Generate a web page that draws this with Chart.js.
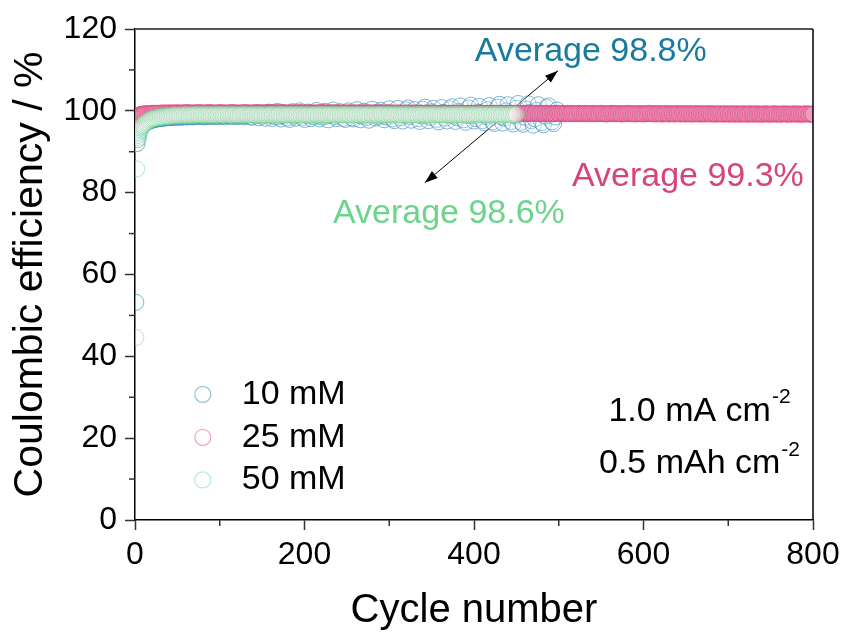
<!DOCTYPE html>
<html>
<head>
<meta charset="utf-8">
<script src="https://cdn.jsdelivr.net/npm/chart.js@4.4.1/dist/chart.umd.min.js"></script>
<style>
body { margin: 0; background: #fff; }
#wrap { width: 846px; height: 635px; }
</style>
</head>
<body>
<div id="wrap"><canvas id="ce-chart"></canvas></div>
<script>
// cycle numbers shared by all three cells (each series stops where its values end)
const cycles = [1, 2, 3, 4, 5, 6, 7, 8, 9, 10,
    12, 14, 16, 18, 20, 22, 24, 26, 28, 30, 32, 34, 36, 38, 40, 42, 44, 46, 48, 50,
    52, 54, 56, 58, 60, 62, 64, 66, 68, 70, 72, 74, 76, 78, 80, 82, 84, 86, 88, 90,
    92, 94, 96, 98, 100, 102, 104, 106, 108, 110, 112, 114, 116, 118, 120, 122, 124, 126, 128, 130,
    132, 134, 136, 138, 140, 142, 144, 146, 148, 150, 152, 154, 156, 158, 160, 162, 164, 166, 168, 170,
    172, 174, 176, 178, 180, 182, 184, 186, 188, 190, 192, 194, 196, 198, 200, 202, 204, 206, 208, 210,
    212, 214, 216, 218, 220, 222, 224, 226, 228, 230, 232, 234, 236, 238, 240, 242, 244, 246, 248, 250,
    252, 254, 256, 258, 260, 262, 264, 266, 268, 270, 272, 274, 276, 278, 280, 282, 284, 286, 288, 290,
    292, 294, 296, 298, 300, 302, 304, 306, 308, 310, 312, 314, 316, 318, 320, 322, 324, 326, 328, 330,
    332, 334, 336, 338, 340, 342, 344, 346, 348, 350, 352, 354, 356, 358, 360, 362, 364, 366, 368, 370,
    372, 374, 376, 378, 380, 382, 384, 386, 388, 390, 392, 394, 396, 398, 400, 402, 404, 406, 408, 410,
    412, 414, 416, 418, 420, 422, 424, 426, 428, 430, 432, 434, 436, 438, 440, 442, 444, 446, 448, 450,
    452, 454, 456, 458, 460, 462, 464, 466, 468, 470, 472, 474, 476, 478, 480, 482, 484, 486, 488, 490,
    492, 494, 496, 498, 500, 502, 504, 506, 508, 510, 512, 514, 516, 518, 520, 522, 524, 526, 528, 530,
    532, 534, 536, 538, 540, 542, 544, 546, 548, 550, 552, 554, 556, 558, 560, 562, 564, 566, 568, 570,
    572, 574, 576, 578, 580, 582, 584, 586, 588, 590, 592, 594, 596, 598, 600, 602, 604, 606, 608, 610,
    612, 614, 616, 618, 620, 622, 624, 626, 628, 630, 632, 634, 636, 638, 640, 642, 644, 646, 648, 650,
    652, 654, 656, 658, 660, 662, 664, 666, 668, 670, 672, 674, 676, 678, 680, 682, 684, 686, 688, 690,
    692, 694, 696, 698, 700, 702, 704, 706, 708, 710, 712, 714, 716, 718, 720, 722, 724, 726, 728, 730,
    732, 734, 736, 738, 740, 742, 744, 746, 748, 750, 752, 754, 756, 758, 760, 762, 764, 766, 768, 770,
    772, 774, 776, 778, 780, 782, 784, 786, 788, 790, 792, 794, 796, 798, 800];

const ce10 = [53.2, 92.0, 93.0, 94.0, 94.8, 95.3, 95.8, 96.1, 96.4, 96.6,
    96.9, 97.2, 97.4, 97.6, 97.7, 97.8, 97.9, 98.0, 98.1, 98.1, 98.2, 98.2, 98.3, 98.3, 98.4, 98.3, 98.4, 98.5, 98.4, 98.5,
    98.5, 98.4, 98.6, 98.5, 98.6, 98.5, 98.7, 98.6, 98.5, 98.6, 98.7, 98.6, 98.8, 98.6, 98.7, 98.5, 98.7, 98.8, 98.6, 98.7,
    98.8, 98.6, 98.7, 98.9, 98.6, 98.8, 98.7, 98.5, 98.8, 98.9, 98.7, 98.6, 98.9, 98.8, 98.6, 98.7, 99.0, 98.8, 98.5, 98.7,
    98.9, 99.2, 98.6, 98.4, 99.1, 99.4, 98.8, 98.3, 99.0, 99.5, 98.7, 98.2, 99.3, 99.7, 98.9, 98.1, 98.6, 99.6, 99.9, 98.5,
    98.0, 98.8, 99.5, 99.1, 98.3, 97.9, 99.2, 99.8, 98.7, 98.2, 99.0, 100.0, 99.3, 98.4, 97.9, 98.9, 99.7, 99.2, 98.1, 98.6,
    99.4, 100.1, 98.8, 98.0, 98.5, 99.6, 99.9, 98.7, 97.8, 98.9, 99.5, 100.2, 98.6, 98.1, 99.0, 99.8, 99.3, 98.2, 97.9, 99.1,
    100.0, 99.4, 98.3, 98.0, 99.2, 100.3, 98.9, 97.8, 98.7, 99.9, 99.5, 98.4, 97.7, 99.0, 100.4, 99.1, 98.2, 98.6, 99.7, 100.1,
    98.8, 97.8, 98.5, 99.6, 100.5, 99.0, 98.0, 97.6, 99.3, 100.6, 99.2, 98.3, 97.5, 98.9, 100.2, 100.7, 98.6, 97.7, 99.1, 100.3,
    99.4, 98.1, 97.4, 98.8, 100.4, 100.9, 98.9, 97.6, 98.4, 99.8, 100.6, 99.0, 97.9, 97.3, 99.2, 100.8, 99.6, 98.2, 97.5, 99.0,
    100.5, 101.0, 98.7, 97.4, 98.3, 99.9, 101.2, 99.3, 97.8, 97.2, 98.9, 100.7, 101.4, 98.8, 97.5, 98.1, 99.7, 101.1, 99.5, 97.6,
    97.1, 98.6, 100.3, 101.3, 99.0, 97.3, 96.9, 99.1, 100.9, 101.6, 98.5, 97.0, 98.2, 100.0, 101.5, 99.4, 97.4, 96.8, 98.8, 100.6,
    101.8, 99.2, 97.2, 96.7, 98.4, 100.4, 101.7, 99.6, 97.6, 96.5, 98.0, 100.1, 101.5, 99.3, 97.1, 96.6, 98.7, 100.8, 101.2, 98.9,
    97.3, 96.9, 98.5, 100.2, 99.4];

const ce25 = [96.8, 97.9, 98.4, 98.7, 98.9, 99.0, 99.1, 99.1, 99.2, 99.2,
    99.3, 99.3, 99.3, 99.3, 99.4, 99.4, 99.4, 99.4, 99.4, 99.4, 99.5, 99.4, 99.5, 99.4, 99.5, 99.5, 99.4, 99.5, 99.5, 99.5,
    99.5, 99.4, 99.5, 99.5, 99.5, 99.6, 99.5, 99.4, 99.5, 99.5, 99.5, 99.5, 99.6, 99.5, 99.4, 99.5, 99.5, 99.5, 99.6, 99.5,
    99.5, 99.5, 99.4, 99.5, 99.6, 99.5, 99.5, 99.5, 99.4, 99.5, 99.5, 99.6, 99.5, 99.5, 99.5, 99.4, 99.5, 99.5, 99.5, 99.6,
    99.5, 99.5, 99.4, 99.5, 99.5, 99.5, 99.6, 99.5, 99.5, 99.4, 99.5, 99.5, 99.5, 99.5, 99.6, 99.5, 99.4, 99.5, 99.5, 99.5,
    99.5, 99.6, 99.5, 99.5, 99.4, 99.5, 99.5, 99.5, 99.5, 99.4, 99.5, 99.6, 99.5, 99.5, 99.5, 99.4, 99.5, 99.5, 99.5, 99.5,
    99.4, 99.5, 99.5, 99.5, 99.6, 99.5, 99.4, 99.5, 99.5, 99.5, 99.4, 99.5, 99.5, 99.5, 99.5, 99.4, 99.5, 99.5, 99.4, 99.5,
    99.5, 99.5, 99.4, 99.5, 99.5, 99.4, 99.5, 99.5, 99.5, 99.4, 99.5, 99.4, 99.5, 99.5, 99.4, 99.5, 99.5, 99.4, 99.5, 99.5,
    99.4, 99.5, 99.4, 99.5, 99.4, 99.5, 99.5, 99.4, 99.4, 99.5, 99.4, 99.5, 99.4, 99.4, 99.5, 99.4, 99.5, 99.4, 99.4, 99.5,
    99.4, 99.4, 99.5, 99.4, 99.4, 99.4, 99.5, 99.4, 99.4, 99.4, 99.5, 99.4, 99.4, 99.3, 99.4, 99.4, 99.5, 99.4, 99.4, 99.4,
    99.4, 99.4, 99.3, 99.4, 99.4, 99.5, 99.4, 99.4, 99.4, 99.3, 99.4, 99.4, 99.4, 99.4, 99.3, 99.4, 99.4, 99.5, 99.4, 99.4,
    99.4, 99.3, 99.4, 99.4, 99.4, 99.3, 99.4, 99.4, 99.3, 99.4, 99.4, 99.4, 99.3, 99.4, 99.4, 99.3, 99.4, 99.4, 99.4, 99.3,
    99.4, 99.4, 99.3, 99.4, 99.3, 99.4, 99.4, 99.3, 99.4, 99.3, 99.4, 99.4, 99.3, 99.3, 99.4, 99.3, 99.4, 99.3, 99.4, 99.3,
    99.3, 99.4, 99.3, 99.4, 99.3, 99.3, 99.4, 99.3, 99.3, 99.4, 99.3, 99.3, 99.4, 99.3, 99.3, 99.3, 99.4, 99.3, 99.3, 99.3,
    99.4, 99.3, 99.3, 99.3, 99.4, 99.3, 99.3, 99.3, 99.3, 99.4, 99.3, 99.3, 99.2, 99.3, 99.3, 99.4, 99.3, 99.3, 99.3, 99.3,
    99.3, 99.2, 99.3, 99.3, 99.3, 99.4, 99.3, 99.3, 99.3, 99.2, 99.3, 99.3, 99.3, 99.3, 99.2, 99.3, 99.3, 99.4, 99.3, 99.3,
    99.3, 99.2, 99.3, 99.3, 99.3, 99.2, 99.3, 99.3, 99.3, 99.2, 99.3, 99.3, 99.2, 99.3, 99.3, 99.3, 99.2, 99.3, 99.3, 99.2,
    99.3, 99.3, 99.2, 99.3, 99.2, 99.3, 99.3, 99.2, 99.3, 99.2, 99.3, 99.2, 99.3, 99.3, 99.2, 99.3, 99.2, 99.2, 99.3, 99.2,
    99.3, 99.2, 99.2, 99.3, 99.2, 99.2, 99.3, 99.2, 99.2, 99.3, 99.2, 99.2, 99.2, 99.3, 99.2, 99.2, 99.2, 99.3, 99.2, 99.2,
    99.2, 99.3, 99.2, 99.2, 99.2, 99.2, 99.3, 99.2, 99.2, 99.2, 99.2, 99.3, 99.2, 99.2, 99.2, 99.2, 99.2, 99.3, 99.2, 99.2,
    99.2, 99.2, 99.2, 99.3, 99.2, 99.2, 99.2, 99.2, 99.2, 99.2, 99.3, 99.2, 99.2, 99.2, 99.2];

const ce50 = [44.6, 85.8, 92.0, 93.5, 94.5, 95.2, 95.7, 96.1, 96.4, 96.7,
    97.0, 97.3, 97.6, 97.8, 98.0, 98.1, 98.2, 98.3, 98.4, 98.5, 98.5, 98.6, 98.6, 98.7, 98.7, 98.8, 98.8, 98.8, 98.9, 98.9,
    98.9, 98.9, 99.0, 98.9, 99.0, 99.0, 98.9, 99.0, 99.0, 99.0, 99.1, 99.0, 99.0, 99.0, 99.1, 99.0, 99.0, 99.1, 99.0, 99.0,
    99.0, 99.1, 99.0, 99.0, 99.1, 99.0, 99.0, 99.0, 99.1, 99.0, 99.1, 99.0, 99.0, 99.1, 99.0, 99.0, 99.0, 99.1, 99.0, 99.1,
    99.0, 99.0, 99.1, 99.0, 99.1, 99.0, 99.0, 99.1, 99.0, 99.0, 99.1, 99.0, 99.0, 99.0, 99.1, 99.0, 99.1, 99.0, 99.0, 99.1,
    99.0, 99.1, 99.0, 99.0, 99.0, 99.1, 99.0, 99.1, 99.0, 99.0, 99.1, 99.0, 99.0, 99.1, 99.0, 99.0, 99.1, 99.0, 99.0, 99.0,
    99.1, 99.0, 99.0, 99.1, 99.0, 99.1, 99.0, 99.0, 99.0, 99.1, 99.0, 99.1, 99.0, 99.0, 99.1, 99.0, 99.0, 99.1, 99.0, 99.1,
    99.0, 99.0, 99.1, 99.0, 99.0, 99.1, 99.0, 99.1, 99.0, 99.0, 99.0, 99.1, 99.0, 99.1, 99.0, 99.0, 99.1, 99.0, 99.0, 99.1,
    99.0, 99.1, 99.0, 99.0, 99.1, 99.0, 99.0, 99.0, 99.1, 99.0, 99.1, 99.0, 99.0, 99.1, 99.0, 99.1, 99.0, 99.0, 99.0, 99.1,
    99.0, 99.0, 99.1, 99.0, 99.1, 99.0, 99.0, 99.1, 99.0, 99.0, 99.1, 99.0, 99.1, 99.0, 99.0, 99.0, 99.1, 99.0, 99.1, 99.0,
    99.0, 99.1, 99.0, 99.0, 99.1, 99.0, 99.1, 99.0, 99.0, 99.1, 99.0, 99.0, 99.0, 99.1, 99.0, 99.1, 99.0, 99.0, 99.1, 99.0,
    99.1, 99.0, 99.0, 99.1, 99.0, 99.0, 99.1, 99.0, 99.1, 99.0, 99.0, 99.1, 99.0, 99.0, 99.1, 99.0, 99.1, 99.0, 99.1, 99.1];

const seriesNames = ['10 mM', '25 mM', '50 mM'];
const xTicks = [0, 200, 400, 600, 800];
const xMinor = [100, 300, 500, 700];
const yTicks = [0, 20, 40, 60, 80, 100, 120];
const yMinor = [10, 30, 50, 70, 90, 110];

const FONT = "'Liberation Sans', Arial, sans-serif";
const lineColors = ['rgba(40, 130, 180, 0.6)', 'rgba(222, 78, 136, 0.75)', 'rgba(115, 215, 150, 0.55)'];
const fillColors = ['rgba(255, 255, 255, 0.2)', 'rgba(238, 150, 185, 0.18)', 'rgba(255, 255, 255, 0.2)'];
const legendColors = ['rgba(45, 135, 185, 0.5)', 'rgba(222, 80, 138, 0.5)', 'rgba(115, 215, 150, 0.5)'];
const textColors = ['rgb(24, 122, 158)', 'rgb(214, 68, 124)', 'rgb(108, 212, 140)'];

function toPoints(values) {
    return values.map((v, i) => ({x: cycles[i], y: v}));
}

function arrowHead(ctx, fx, fy, tx, ty) {
    const ang = Math.atan2(ty - fy, tx - fx);
    const len = 13, half = 4.5;
    ctx.beginPath();
    ctx.moveTo(tx, ty);
    ctx.lineTo(tx - len * Math.cos(ang) + half * Math.sin(ang), ty - len * Math.sin(ang) - half * Math.cos(ang));
    ctx.lineTo(tx - len * Math.cos(ang) - half * Math.sin(ang), ty - len * Math.sin(ang) + half * Math.cos(ang));
    ctx.closePath();
    ctx.fill();
}

// text with a "-2" superscript, centred on cx
function supText(ctx, main, sup, cx, cy) {
    ctx.font = `34px ${FONT}`;
    const w1 = ctx.measureText(main).width;
    ctx.font = `21px ${FONT}`;
    const w2 = ctx.measureText(sup).width;
    const left = cx - (w1 + w2) / 2;
    ctx.textAlign = 'left';
    ctx.textBaseline = 'middle';
    ctx.font = `34px ${FONT}`;
    ctx.fillText(main, left, cy);
    ctx.font = `21px ${FONT}`;
    ctx.fillText(sup, left + w1 + 1, cy - 14);
}

const decorations = {
    id: 'decorations',
    beforeDatasetsDraw(chart) {
        const {ctx, scales: {x, y}} = chart;
        // double arrow between the two averages (sits under the markers)
        const x1 = x.getPixelForValue(342), y1 = y.getPixelForValue(82.4);
        const x2 = x.getPixelForValue(499), y2 = y.getPixelForValue(109.8);
        ctx.save();
        ctx.strokeStyle = '#000';
        ctx.fillStyle = '#000';
        ctx.lineWidth = 1;
        ctx.beginPath();
        ctx.moveTo(x1, y1);
        ctx.lineTo(x2, y2);
        ctx.stroke();
        arrowHead(ctx, x2, y2, x1, y1);
        arrowHead(ctx, x1, y1, x2, y2);
        ctx.restore();
    },
    afterDraw(chart) {
        const {ctx, chartArea: a, scales: {x, y}} = chart;
        ctx.save();
        // top and right frame
        ctx.strokeStyle = '#555';
        ctx.lineWidth = 2;
        ctx.beginPath();
        ctx.moveTo(a.left, a.top);
        ctx.lineTo(a.right, a.top);
        ctx.stroke();
        ctx.strokeStyle = '#000';
        ctx.lineWidth = 1.5;
        ctx.beginPath();
        ctx.moveTo(a.right, a.top);
        ctx.lineTo(a.right, a.bottom);
        ctx.stroke();

        // minor ticks
        ctx.strokeStyle = '#333';
        ctx.lineWidth = 1.5;
        for (const v of xMinor) {
            const px = x.getPixelForValue(v);
            ctx.beginPath();
            ctx.moveTo(px, a.bottom);
            ctx.lineTo(px, a.bottom + 6);
            ctx.stroke();
        }
        for (const v of yMinor) {
            const py = y.getPixelForValue(v);
            ctx.beginPath();
            ctx.moveTo(a.left - 6, py);
            ctx.lineTo(a.left, py);
            ctx.stroke();
        }

        // legend inside the plot
        const legendY = [30.7, 20.2, 9.8];
        seriesNames.forEach((name, i) => {
            const py = y.getPixelForValue(legendY[i]);
            ctx.strokeStyle = legendColors[i];
            ctx.lineWidth = 1.2;
            ctx.beginPath();
            ctx.arc(x.getPixelForValue(80), py, 8, 0, Math.PI * 2);
            ctx.stroke();
            ctx.fillStyle = '#000';
            ctx.font = `34px ${FONT}`;
            ctx.textAlign = 'left';
            ctx.textBaseline = 'middle';
            ctx.fillText(name, x.getPixelForValue(126), py);
        });

        // averages
        ctx.font = `34px ${FONT}`;
        ctx.textAlign = 'left';
        ctx.textBaseline = 'middle';
        ctx.fillStyle = textColors[0];
        ctx.fillText('Average 98.8%', x.getPixelForValue(401), y.getPixelForValue(114.4));
        ctx.fillStyle = textColors[1];
        ctx.fillText('Average 99.3%', x.getPixelForValue(515.6), y.getPixelForValue(83.9));
        ctx.fillStyle = textColors[2];
        ctx.fillText('Average 98.6%', x.getPixelForValue(233.6), y.getPixelForValue(74.9));

        // test conditions
        ctx.fillStyle = '#000';
        supText(ctx, '1.0 mA cm', '-2', x.getPixelForValue(665.5), y.getPixelForValue(26.6));
        supText(ctx, '0.5 mAh cm', '-2', x.getPixelForValue(665.5), y.getPixelForValue(13.7));
        ctx.restore();
    }
};

const datasets = [ce10, ce25, ce50].map((values, i) => ({
    label: seriesNames[i],
    data: toPoints(values),
    borderColor: lineColors[i],
    backgroundColor: fillColors[i],
    pointRadius: 8,
    pointBorderWidth: 1,
    pointHoverRadius: 8,
    clip: 0,
    order: [2, 1, 0][i]
}));

const chart_canvas = document.getElementById('ce-chart');
const ce_chart = new Chart(chart_canvas, {
    type: 'scatter',
    data: {datasets: datasets},
    options: {
        responsive: true,
        maintainAspectRatio: false,
        animation: false,
        layout: {padding: {top: 29, right: 33, left: 0, bottom: 0}},
        plugins: {
            legend: {display: false},
            tooltip: {enabled: false}
        },
        scales: {
            x: {
                type: 'linear',
                min: 0,
                max: 800,
                afterBuildTicks: (s) => { s.ticks = xTicks.map(v => ({value: v})); },
                afterFit: (s) => { s.height = 115; },
                ticks: {color: '#000', font: {family: FONT, size: 32}, padding: 6, maxRotation: 0},
                grid: {drawOnChartArea: false, tickLength: 10, tickColor: '#333', tickWidth: 1.5},
                border: {color: '#000', width: 1.5},
                title: {display: true, text: 'Cycle number', color: '#000',
                    font: {family: FONT, size: 40}, padding: {top: 0, bottom: 0}}
            },
            y: {
                min: 0,
                max: 120,
                afterBuildTicks: (s) => { s.ticks = yTicks.map(v => ({value: v})); },
                afterFit: (s) => { s.width = 135; },
                ticks: {color: '#000', font: {family: FONT, size: 32}, padding: 8},
                grid: {drawOnChartArea: false, tickLength: 10, tickColor: '#333', tickWidth: 1.5},
                border: {color: '#000', width: 1.5},
                title: {display: true, text: 'Coulombic efficiency / %', color: '#000',
                    font: {family: FONT, size: 41}, padding: {top: 6, bottom: 0}}
            }
        }
    },
    plugins: [decorations]
});
</script>
</body>
</html>
